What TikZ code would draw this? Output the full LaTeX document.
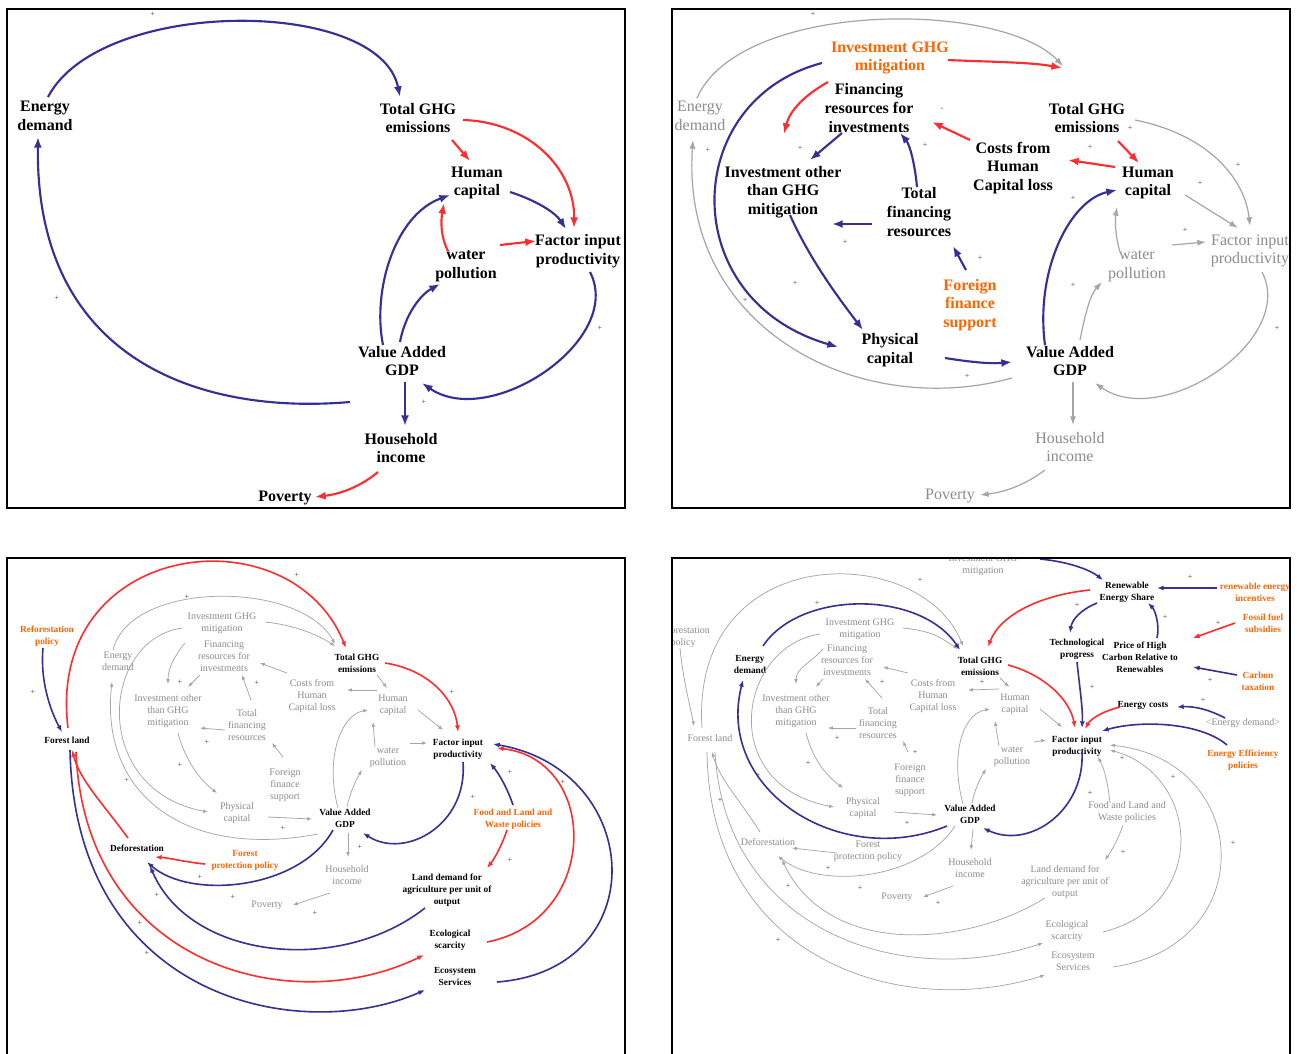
\documentclass[tikz,border=0pt]{standalone}
\usepackage{fontspec}
\setmainfont{Liberation Serif}
\usetikzlibrary{arrows.meta,calc}
\definecolor{bluec}{RGB}{52,48,150}
\definecolor{redc}{RGB}{255,45,45}
\definecolor{orangec}{RGB}{255,100,0}
\definecolor{grayl}{RGB}{165,165,165}
\definecolor{grayt}{RGB}{140,140,140}
\newcommand{\ghostcore}[1]{%
 \draw[sGA] ($(ig#1)+(43,-1)$) .. controls +(30,3) and +(-17,-11) .. ($(tg#1)+(-22,-17)$);
 \draw[sGA] ($(ig#1)+(-40,5)$) .. controls +(-82,12) and +(-118,-22) .. ($(pc#1)+(-29,-1)$);
 \draw[sGA] ($(ig#1)+(-37,20)$) .. controls +(-10,12) and +(0,-16) .. ($(io#1)+(0,-27)$);
 \draw[sGA] ($(fr#1)+(-24,19)$) -- ($(io#1)+(20,-24)$);
 \draw[sGA] ($(tf#1)+(4,-25)$) -- ($(fr#1)+(18,19)$);
 \draw[sGA] ($(cc#1)+(-25,-23)$) -- ($(fr#1)+(36,7)$);
 \draw[sGA] ($(hc#1)+(-16,-15)$) -- ($(cc#1)+(35,-6)$);
 \draw[sGA] ($(tg#1)+(20,12)$) -- ($(hc#1)+(-6,-17)$);
 \draw[sGA] ($(tf#1)+(-22,5)$) -- ($(io#1)+(32,17)$);
 \draw[sGA] ($(ff#1)+(-2,-28)$) -- ($(tf#1)+(25,18)$);
 \draw[sGA] ($(io#1)+(10,22)$) .. controls +(7,27) and +(-17,-13) .. ($(pc#1)+(-20,-20)$);
 \draw[sGA] ($(pc#1)+(31,4)$) -- ($(va#1)+(-33,1)$);
 \draw[sGA] ($(va#1)+(-7,-10)$) .. controls +(-13,-48) and +(-28,5) .. ($(hc#1)+(-25,5)$);
 \draw[sGA] ($(va#1)+(2,-11)$) .. controls +(3,-15) and +(-5,8) .. ($(wp#1)+(-26,12)$);
 \draw[sGA] ($(wp#1)+(-13,-11)$) -- ($(hc#1)+(-20,17)$);
 \draw[sGA] ($(hc#1)+(25,5)$) -- ($(fi#1)+(-15,-19)$);
 \draw[sGA] ($(wp#1)+(22,-15)$) -- ($(fi#1)+(-31,-6)$);
 \draw[sGA] ($(va#1)+(3,15)$) -- ($(hh#1)+(1,-18)$);
 \draw[sGA] ($(hh#1)+(-17,18)$) -- ($(pv#1)+(26,0)$);
}
\begin{document}
\begin{tikzpicture}[x=0.75pt,y=-0.75pt,
 BT/.style={font=\fontsize{12}{14}\selectfont\bfseries,align=center,inner sep=0pt,text=black},
 OT/.style={BT,text=orangec},
 GT/.style={font=\fontsize{12}{14}\selectfont,align=center,inner sep=0pt,text=grayt},
 sBT/.style={font=\fontsize{7}{9}\selectfont\bfseries,align=center,inner sep=0pt,text=black},
 sOT/.style={sBT,text=orangec},
 sGT/.style={font=\fontsize{7.5}{9}\selectfont,align=center,inner sep=0pt,text=grayt},
 sgn/.style={font=\fontsize{6}{6}\selectfont,inner sep=0pt,text=black!75},
 BA/.style={draw=bluec,line width=1.6pt,-{Latex[length=8pt,width=6pt]}},
 RA/.style={draw=redc,line width=1.6pt,-{Latex[length=8pt,width=6pt]}},
 GA/.style={draw=grayl,line width=0.9pt,-{Latex[length=6.5pt,width=4.5pt]}},
 sBA/.style={draw=bluec,line width=1.2pt,-{Latex[length=5pt,width=3.8pt]}},
 sRA/.style={draw=redc,line width=1.2pt,-{Latex[length=5pt,width=3.8pt]}},
 sGA/.style={draw=grayl,line width=0.55pt,-{Latex[length=3.6pt,width=2.7pt]}},
 frame/.style={draw=black,line width=1pt}]
\useasboundingbox[fill=white] (0,0) rectangle (1297,1054);

%% ================= PANEL 1 =================
\begin{scope}
\clip (7,9) rectangle (625,508);
\node[BT] (ed1) at (45,116) {Energy\\demand};
\node[BT] (tg1) at (418,118) {Total GHG\\emissions};
\node[BT] (hc1) at (477,183) {Human\\capital};
\node[BT] (wp1) at (466,266) {water\\pollution};
\node[BT] (fi1) at (578,251) {Factor input\\productivity};
\node[BT] (va1) at (402,361) {Value Added\\GDP};
\node[BT] (hh1) at (401,448) {Household\\income};
\node[BT] (pv1) at (285,498) {Poverty};
\draw[BA] ($(ed1)+(3,-19)$) .. controls (100,-3) and (380,-3) .. ($(tg1)+(-18,-21)$);
\draw[BA] ($(va1)+(-52,41)$) .. controls (200,415) and (35,360) .. ($(ed1)+(-7,21)$);
\draw[RA] ($(tg1)+(34,22)$) -- ($(hc1)+(-7,-22)$);
\draw[RA] ($(tg1)+(45,2)$) .. controls (530,122) and (575,170) .. ($(fi1)+(-4,-23)$);
\draw[BA] ($(hc1)+(33,9)$) .. controls (535,200) and (555,212) .. ($(fi1)+(-12,-22)$);
\draw[RA] ($(wp1)+(-18,-15)$) .. controls (440,235) and (441,220) .. ($(hc1)+(-33,20)$);
\draw[RA] ($(wp1)+(34,-21)$) -- ($(fi1)+(-42,-10)$);
\draw[BA] ($(va1)+(-19,-16)$) .. controls (372,290) and (395,215) .. ($(hc1)+(-27,12)$);
\draw[BA] ($(va1)+(-2,-19)$) .. controls (405,315) and (420,295) .. ($(wp1)+(-26,18)$);
\draw[BA] ($(fi1)+(12,21)$) .. controls (625,340) and (490,430) .. ($(va1)+(20,22)$);
\draw[BA] ($(va1)+(3,21)$) -- ($(hh1)+(4,-22)$);
\draw[RA] ($(hh1)+(-23,24)$) .. controls (360,487) and (340,494) .. ($(pv1)+(30,-1)$);
\foreach \x/\y [count=\i] in {153/14,57/298,424/402,600/328}
  \node[sgn] (sa\i) at (\x,\y) {+};
\end{scope}
\draw[frame] (7,9) rectangle (625,508);

%% ================= PANEL 2 =================
\begin{scope}
\clip (672,9) rectangle (1290,508);
\node[OT] (ig2) at (890,58) {Investment GHG\\mitigation};
\node[BT] (fr2) at (869,108) {Financing\\resources for\\investments};
\node[GT] (ed2) at (700,116) {Energy\\demand};
\node[BT] (tg2) at (1087,118) {Total GHG\\emissions};
\node[BT] (cc2) at (1013,168) {Costs from\\Human\\Capital loss};
\node[BT] (hc2) at (1148,183) {Human\\capital};
\node[BT] (io2) at (783,192) {Investment other\\than GHG\\mitigation};
\node[BT] (tf2) at (919,212) {Total\\financing\\resources};
\node[GT] (wp2) at (1137,266) {water\\pollution};
\node[GT] (fi2) at (1250,251) {Factor input\\productivity};
\node[OT] (ff2) at (970,305) {Foreign\\finance\\support};
\node[BT] (pc2) at (890,350) {Physical\\capital};
\node[BT] (va2) at (1070,361) {Value Added\\GDP};
\node[GT] (hh2) at (1070,447) {Household\\income};
\node[GT] (pv2) at (950,496) {Poverty};
\draw[GA] ($(ed2)+(-3,-18)$) .. controls (740,0) and (1000,0) .. ($(tg2)+(-24,-52)$);
\draw[GA] ($(va2)+(-58,17)$) .. controls (860,420) and (680,330) .. ($(ed2)+(-7,24)$);
\draw[GA] ($(va2)+(10,-21)$) .. controls (1085,315) and (1090,295) .. ($(wp2)+(-35,16)$);
\draw[GA] ($(wp2)+(-17,-14)$) .. controls (1115,235) and (1115,220) .. ($(hc2)+(-31,24)$);
\draw[GA] ($(hc2)+(37,12)$) -- ($(fi2)+(-12,-23)$);
\draw[GA] ($(tg2)+(48,2)$) .. controls (1210,135) and (1245,180) .. ($(fi2)+(0,-25)$);
\draw[GA] ($(wp2)+(35,-21)$) -- ($(fi2)+(-44,-9)$);
\draw[GA] ($(fi2)+(12,21)$) .. controls (1297,340) and (1162,430) .. ($(va2)+(25,22)$);
\draw[GA] ($(va2)+(3,21)$) -- ($(hh2)+(3,-22)$);
\draw[GA] ($(hh2)+(-25,23)$) .. controls (1025,485) and (1005,492) .. ($(pv2)+(30,-1)$);
\draw[RA] ($(ig2)+(58,2)$) .. controls (990,62) and (1030,62) .. ($(tg2)+(-25,-50)$);
\draw[BA] ($(ig2)+(-68,5)$) .. controls (680,100) and (675,300) .. ($(pc2)+(-52,-3)$);
\draw[RA] ($(ig2)+(-62,24)$) .. controls (805,95) and (790,110) .. ($(io2)+(1,-58)$);
\draw[BA] ($(fr2)+(-27,25)$) -- ($(io2)+(27,-32)$);
\draw[BA] ($(tf2)+(-2,-25)$) .. controls (915,165) and (910,145) .. ($(fr2)+(31,25)$);
\draw[RA] ($(cc2)+(-43,-28)$) -- ($(fr2)+(63,14)$);
\draw[RA] ($(hc2)+(-33,-16)$) -- ($(cc2)+(55,-8)$);
\draw[RA] ($(tg2)+(31,23)$) -- ($(hc2)+(-9,-20)$);
\draw[BA] ($(tf2)+(-47,12)$) -- ($(io2)+(49,32)$);
\draw[BA] ($(ff2)+(-4,-35)$) -- ($(tf2)+(34,34)$);
\draw[BA] ($(io2)+(7,23)$) .. controls (810,260) and (840,300) .. ($(pc2)+(-27,-20)$);
\draw[BA] ($(pc2)+(55,8)$) .. controls (970,362) and (990,364) .. ($(va2)+(-58,1)$);
\draw[BA] ($(va2)+(-25,-16)$) .. controls (1035,270) and (1070,200) .. ($(hc2)+(-31,7)$);
\foreach \x/\y [count=\i] in {813/14,708/150,800/148,925/145,845/242,980/258,795/283,745/300,967/376,1130/128,1073/198,1200/183,1238/165,1185/230,1073/285,1277/328,1090/147}
  \node[sgn] (sb\i) at (\x,\y) {+};
\node[sgn] (sbm) at (942,109) {-};
\end{scope}
\draw[frame] (672,9) rectangle (1290,508);

%% ================= PANEL 3 =================
\begin{scope}
\clip (7,558) rectangle (625,1054);
\node[sGT] (ig3) at (222,623) {Investment GHG\\mitigation};
\node[sGT] (ed3) at (118,661) {Energy\\demand};
\node[sGT] (fr3) at (224,656) {Financing\\resources for\\investments};
\node[sGT] (io3) at (168,711) {Investment other\\than GHG\\mitigation};
\node[sGT] (tf3) at (247,725) {Total\\financing\\resources};
\node[sGT] (cc3) at (312,696) {Costs from\\Human\\Capital loss};
\node[sGT] (hc3) at (393,705) {Human\\capital};
\node[sGT] (wp3) at (388,758) {water\\pollution};
\node[sGT] (ff3) at (285,785) {Foreign\\finance\\support};
\node[sGT] (pc3) at (237,813) {Physical\\capital};
\node[sGT] (hh3) at (347,875) {Household\\income};
\node[sGT] (pv3) at (267,905) {Poverty};
\node[sBT] (tg3) at (357,663) {Total GHG\\emissions};
\node[sBT] (fi3) at (458,749) {Factor input\\productivity};
\node[sBT] (va3) at (345,818) {Value Added\\GDP};
\node[sBT] (fl3) at (67,740) {Forest land};
\node[sBT] (df3) at (137,848) {Deforestation};
\node[sBT] (ld3) at (447,890) {Land demand for\\agriculture per unit of\\output};
\node[sBT] (es3) at (450,940) {Ecological\\scarcity};
\node[sBT] (sv3) at (455,976) {Ecosystem\\Services};
\node[sOT] (rp3) at (47,636) {Reforestation\\policy};
\node[sOT] (fp3) at (245,860) {Forest\\protection policy};
\node[sOT] (fd3) at (513,819) {Food and Land and\\Waste policies};
\ghostcore{3}
\draw[sGA] ($(ed3)+(-5,-11)$) .. controls (130,580) and (300,580) .. ($(tg3)+(-22,-19)$);
\draw[sGA] ($(va3)+(-27,16)$) .. controls (180,860) and (100,790) .. ($(ed3)+(-6,21)$);
\draw[sRA] ($(fl3)+(1,-12)$) .. controls (45,540) and (290,510) .. ($(tg3)+(-11,-15)$);
\draw[sBA] ($(rp3)+(-4,12)$) .. controls (40,680) and (50,710) .. ($(fl3)+(-5,-8)$);
\draw[sRA] ($(df3)+(-9,-10)$) .. controls (100,800) and (80,780) .. ($(fl3)+(5,10)$);
\draw[sBA] ($(fl3)+(3,10)$) .. controls (75,1000) and (300,1045) .. ($(sv3)+(-30,14)$);
\draw[sRA] ($(fl3)+(9,12)$) .. controls (85,965) and (290,1020) .. ($(es3)+(-26,15)$);
\draw[sBA] ($(va3)+(-12,12)$) .. controls (300,890) and (190,900) .. ($(df3)+(10,14)$);
\draw[sBA] ($(ld3)+(-22,18)$) .. controls (340,975) and (190,960) .. ($(df3)+(13,18)$);
\draw[sRA] ($(fp3)+(-40,4)$) .. controls (185,862) and (170,858) .. ($(df3)+(18,9)$);
\draw[sRA] ($(es3)+(37,2)$) .. controls (600,920) and (600,760) .. ($(fi3)+(39,-1)$);
\draw[sBA] ($(sv3)+(42,6)$) .. controls (655,970) and (645,770) .. ($(fi3)+(35,-5)$);
\draw[sBA] ($(fd3)+(0,-14)$) .. controls (508,790) and (500,775) .. ($(fi3)+(32,14)$);
\draw[sRA] ($(fd3)+(-6,11)$) .. controls (502,845) and (495,858) .. ($(ld3)+(40,-22)$);
\draw[sBA] ($(fi3)+(5,13)$) .. controls (468,825) and (405,860) .. ($(va3)+(18,15)$);
\draw[sRA] ($(tg3)+(28,0)$) .. controls (430,670) and (455,700) .. ($(fi3)+(0,-17)$);
\foreach \x/\y [count=\i] in {187/597,297/575,33/692,127/780,180/765,207/742,257/683,180/682,283/828,360/847,200/877,233/897,157/895,147/953,140/923,315/913,452/692,510/772,563/782,473/797,510/860}
  \node[sgn] (sc\i) at (\x,\y) {+};
\end{scope}
\draw[frame] (7,1070) -- (7,558) -- (625,558) -- (625,1070);

%% ================= PANEL 4 =================
\begin{scope}
\clip (672,558) rectangle (1290,1054);
\node[sGT] (igt4) at (983,565) {Investment GHG\\mitigation};
\node[sGT] (ig4) at (860,629) {Investment GHG\\mitigation};
\node[sGT] (fr4) at (847,660) {Financing\\resources for\\investments};
\node[sGT] (io4) at (796,711) {Investment other\\than GHG\\mitigation};
\node[sGT] (tf4) at (878,723) {Total\\financing\\resources};
\node[sGT] (cc4) at (933,696) {Costs from\\Human\\Capital loss};
\node[sGT] (hc4) at (1015,704) {Human\\capital};
\node[sGT] (wp4) at (1012,757) {water\\pollution};
\node[sGT] (ff4) at (910,780) {Foreign\\finance\\support};
\node[sGT] (pc4) at (863,808) {Physical\\capital};
\node[sGT] (hh4) at (970,868) {Household\\income};
\node[sGT] (pv4) at (897,897) {Poverty};
\node[sGT] (rp4) at (683,637) {Reforestation\\policy};
\node[sGT] (fl4) at (710,738) {Forest land};
\node[sGT] (df4) at (768,842) {Deforestation};
\node[sGT] (fp4) at (868,851) {Forest\\protection policy};
\node[sGT] (fd4) at (1127,812) {Food and Land and\\Waste policies};
\node[sGT] (ld4) at (1065,882) {Land demand for\\agriculture per unit of\\output};
\node[sGT] (es4) at (1067,931) {Ecological\\scarcity};
\node[sGT] (sv4) at (1073,961) {Ecosystem\\Services};
\node[sGT] (edg4) at (1243,723) {<Energy demand>};
\node[sBT] (re4) at (1127,592) {Renewable\\Energy Share};
\node[sBT] (tp4) at (1077,649) {Technological\\progress};
\node[sBT] (pr4) at (1140,657) {Price of High\\Carbon Relative to\\Renewables};
\node[sBT] (ec4) at (1143,705) {Energy costs};
\node[sBT] (fi4) at (1077,746) {Factor input\\productivity};
\node[sBT] (tg4) at (980,666) {Total GHG\\emissions};
\node[sBT] (ed4) at (750,664) {Energy\\demand};
\node[sBT] (va4) at (970,814) {Value Added\\GDP};
\node[sOT] (ri4) at (1255,592) {renewable energy\\incentives};
\node[sOT] (fs4) at (1263,623) {Fossil fuel\\subsidies};
\node[sOT] (ct4) at (1258,681) {Carbon\\taxation};
\node[sOT] (ee4) at (1243,760) {Energy Efficiency\\policies};
\ghostcore{4}
\draw[sGA] ($(fl4)+(-8,-10)$) .. controls (690,540) and (920,540) .. ($(tg4)+(-17,-20)$);
\draw[sGA] ($(rp4)+(-3,11)$) .. controls (683,680) and (690,705) .. ($(fl4)+(-16,-12)$);
\draw[sGA] ($(df4)+(-8,-10)$) .. controls (740,800) and (720,780) .. ($(fl4)+(2,14)$);
\draw[sGA] ($(fl4)+(-3,14)$) .. controls (710,960) and (900,1020) .. ($(sv4)+(-28,14)$);
\draw[sGA] ($(fl4)+(5,14)$) .. controls (725,930) and (900,990) .. ($(es4)+(-24,12)$);
\draw[sGA] ($(va4)+(-15,12)$) .. controls (920,880) and (820,890) .. ($(df4)+(10,14)$);
\draw[sGA] ($(ld4)+(-20,16)$) .. controls (970,945) and (830,960) .. ($(df4)+(14,18)$);
\draw[sGA] ($(fp4)+(-31,2)$) -- ($(df4)+(24,6)$);
\draw[sGA] ($(es4)+(36,1)$) .. controls (1210,905) and (1200,775) .. ($(fi4)+(33,4)$);
\draw[sGA] ($(sv4)+(40,6)$) .. controls (1262,945) and (1252,760) .. ($(fi4)+(33,-1)$);
\draw[sGA] ($(fd4)+(-17,-9)$) .. controls (1108,785) and (1105,770) .. ($(fi4)+(21,11)$);
\draw[sGA] ($(fd4)+(-4,13)$) .. controls (1118,840) and (1112,850) .. ($(ld4)+(40,-22)$);
\draw[sBA] ($(ed4)+(13,-18)$) .. controls (800,590) and (920,590) .. ($(tg4)+(-20,-16)$);
\draw[sBA] ($(va4)+(-23,12)$) .. controls (840,870) and (715,790) .. ($(ed4)+(-7,16)$);
\draw[sRA] ($(re4)+(-37,-2)$) .. controls (1040,595) and (1000,615) .. ($(tg4)+(8,-19)$);
\draw[sRA] ($(tg4)+(28,-1)$) .. controls (1045,675) and (1070,700) .. ($(fi4)+(-2,-18)$);
\draw[sBA] ($(re4)+(-30,11)$) .. controls (1080,610) and (1072,620) .. ($(tp4)+(-7,-16)$);
\draw[sBA] ($(tp4)+(0,13)$) .. controls (1080,690) and (1083,710) .. ($(fi4)+(5,-18)$);
\draw[sBA] ($(pr4)+(17,-19)$) .. controls (1160,625) and (1155,610) .. ($(re4)+(21,11)$);
\draw[sBA] ($(ri4)+(-38,-4)$) -- ($(re4)+(30,-4)$);
\draw[sRA] ($(fs4)+(-28,0)$) -- ($(pr4)+(53,-19)$);
\draw[sBA] ($(ct4)+(-21,-6)$) -- ($(pr4)+(53,10)$);
\draw[sRA] ($(ec4)+(-23,2)$) .. controls (1100,712) and (1090,720) .. ($(fi4)+(8,-17)$);
\draw[sBA] ($(edg4)+(-18,-5)$) .. controls (1210,710) and (1195,706) .. ($(ec4)+(34,2)$);
\draw[sBA] ($(ee4)+(-16,-15)$) .. controls (1200,722) and (1140,720) .. ($(fi4)+(25,-15)$);
\draw[sBA] ($(fi4)+(5,6)$) .. controls (1085,810) and (1030,850) .. ($(va4)+(13,14)$);
\draw[sBA] ($(igt4)+(57,-6)$) .. controls (1070,562) and (1090,570) .. ($(re4)+(-24,-12)$);
\foreach \x/\y [count=\i] in {920/580,817/603,882/682,837/738,915/752,808/763,758/775,720/800,982/682,1190/577,1077/605,1165/617,1218/623,1210/680,1092/687,1203/700,1122/758,1173/777,1090/793,828/868,860/888,788/886,778/940,938/903,907/823,1123/852,1233/843}
  \node[sgn] (sd\i) at (\x,\y) {+};
\end{scope}
\draw[frame] (672,1070) -- (672,558) -- (1290,558) -- (1290,1070);
\end{tikzpicture}
\end{document}
